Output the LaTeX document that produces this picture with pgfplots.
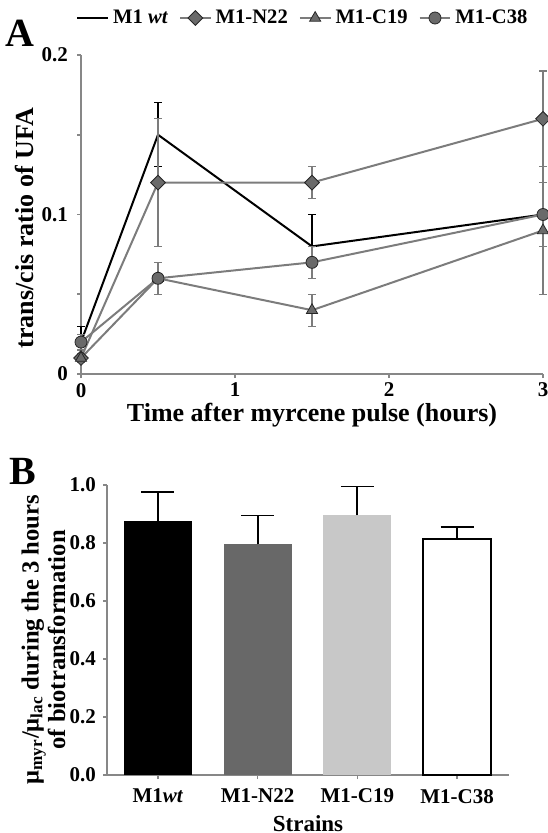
\documentclass[border=0pt]{standalone}
\usepackage{fontspec}
\setmainfont{Liberation Serif}
\usepackage{pgfplots}
\pgfplotsset{compat=1.18}

\definecolor{axgray}{HTML}{878787}
\definecolor{lngray}{HTML}{7C7C7C}
\definecolor{mkgray}{HTML}{6A6A6A}
\definecolor{bargray}{HTML}{686868}
\definecolor{barlight}{HTML}{C8C8C8}

\pgfplotsset{
  figstyle/.style={
    scale only axis,
    axis x line*=bottom, axis y line*=left,
    axis line style={axgray, line width=0.9pt},
    tick style={axgray, line width=0.8pt},
    tick align=outside,
    major tick length=2pt, minor tick length=2pt,
    tick label style={font=\bfseries\fontsize{10.5}{12}\selectfont},
    /pgf/number format/assume math mode=true,
  },
  grayline/.style={lngray, line width=1pt,
    error bars/y dir=both, error bars/y explicit,
    error bars/error bar style={lngray, line width=0.6pt},
    error bars/error mark options={rotate=90, mark size=1.8pt, lngray, line width=0.6pt}},
  barerr/.style={error bars/y dir=plus, error bars/y explicit,
    error bars/error bar style={black, line width=0.9pt},
    error bars/error mark options={rotate=90, mark size=8.2pt, black, line width=0.9pt}},
}

\begin{document}
\begin{tikzpicture}
\useasboundingbox (0,0) rectangle (273.5pt,-416.5pt);
\node[font=\bfseries\fontsize{20}{20}\selectfont] at (10pt,-16.5pt) {A};
\node[font=\bfseries\fontsize{20}{20}\selectfont] at (11.5pt,-235.5pt) {B};

% panel A
\begin{axis}[figstyle,
    at={(40.5pt,-187pt)}, anchor=south west,
    width=231pt, height=159.5pt,
    xmin=0, xmax=3, ymin=0, ymax=0.2,
    xtick={0,1,2,3}, ytick={0,0.1,0.2}, minor ytick={0.05,0.15},
    xticklabel style={yshift=1pt},
    yticklabel style={xshift=-1pt},
    clip=false,
    xlabel={Time after myrcene pulse (hours)},
    ylabel={trans/cis ratio of UFA},
    label style={font=\bfseries\fontsize{13}{15}\selectfont},
    xlabel style={at={(axis description cs:0.5,-0.128)}, anchor=center},
    ylabel style={at={(axis description cs:-0.123,0.457)}, anchor=center},
    legend columns=4,
    legend image code/.code={\draw[mark repeat=2,mark phase=2] plot coordinates {(0cm,0cm) (0.27cm,0cm) (0.54cm,0cm)};},
    legend style={draw=none, fill=none, font=\bfseries\fontsize{10.3}{12}\selectfont,
      at={(0,1)}, anchor=west, xshift=-5.5pt, yshift=18.5pt,
      /tikz/every even column/.append style={column sep=3.5pt}},
]
\addplot[black, line width=1pt,
    error bars/y dir=both, error bars/y explicit,
    error bars/error bar style={black, line width=0.6pt},
    error bars/error mark options={rotate=90, mark size=1.8pt, black, line width=0.6pt}]
  coordinates {(0,0.02) +- (0,0.01) (0.5,0.15) +- (0,0.02) (1.5,0.08) +- (0,0.02) (3,0.10) +- (0,0.02)};
\addlegendentry{M1 \textit{wt}}
\addplot[grayline, mark=square*, mark size=2.6pt,
    mark options={rotate=45, fill=mkgray, draw=black!85, line width=0.4pt}]
  coordinates {(0,0.01) +- (0,0.003) (0.5,0.12) +- (0,0.04) (1.5,0.12) +- (0,0.01) (3,0.16) +- (0,0.03)};
\addlegendentry{M1-N22}
\addplot[grayline, mark=triangle*, mark size=3.2pt,
    mark options={fill=mkgray, draw=black!85, line width=0.4pt}]
  coordinates {(0,0.01) +- (0,0.003) (0.5,0.06) +- (0,0.01) (1.5,0.04) +- (0,0.01) (3,0.09) +- (0,0.04)};
\addlegendentry{M1-C19}
\addplot[grayline, mark=*, mark size=3pt,
    mark options={fill=mkgray, draw=black!85, line width=0.4pt}]
  coordinates {(0,0.02) +- (0,0.005) (0.5,0.06) +- (0,0.01) (1.5,0.07) +- (0,0.01) (3,0.10) +- (0,0.02)};
\addlegendentry{M1-C38}
\end{axis}

% panel B
\begin{axis}[figstyle,
    at={(53.5pt,-387.5pt)}, anchor=south west,
    width=201pt, height=145pt,
    xmin=-0.51, xmax=3.52, ymin=0, ymax=1,
    ytick={0,0.2,0.4,0.6,0.8,1.0},
    yticklabel style={/pgf/number format/.cd, fixed, fixed zerofill, precision=1},
    xtick={0,1,2,3},
    xticklabels={M1\textit{wt}, M1-N22, M1-C19, M1-C38},
    xticklabel style={font=\bfseries\fontsize{10.5}{12}\selectfont, yshift=-1.5pt},
    xlabel={Strains},
    ylabel={μ\textsubscript{myr}/μ\textsubscript{lac} during the 3 hours\\of biotransformation},
    xlabel style={font=\bfseries\fontsize{11.5}{12.5}\selectfont, at={(axis description cs:0.5,-0.166)}, anchor=center},
    ylabel style={font=\bfseries\fontsize{12.3}{11.5}\selectfont, at={(axis description cs:-0.158,0.466)}, anchor=center, align=center},
    ybar, bar width=0.68, bar shift=0pt,
]
\addplot[fill=black, draw=none, barerr] coordinates {(0,0.875) +- (0,0.1)};
\addplot[fill=bargray, draw=none, barerr] coordinates {(1,0.795) +- (0,0.1)};
\addplot[fill=barlight, draw=none, barerr] coordinates {(2,0.895) +- (0,0.1)};
\addplot[fill=white, draw=black, line width=1pt, barerr] coordinates {(3,0.815) +- (0,0.04)};
\end{axis}
\end{tikzpicture}
\end{document}
